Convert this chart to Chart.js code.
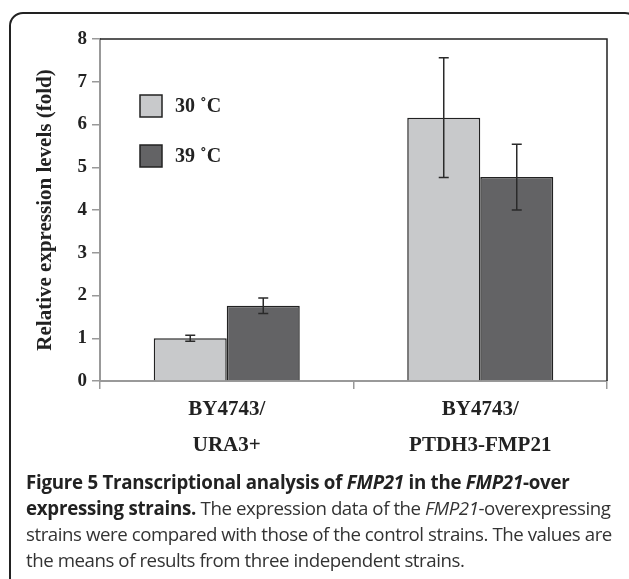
<!DOCTYPE html>
<html>
<head>
<meta charset="utf-8">
<script src="https://cdn.jsdelivr.net/npm/chart.js@4.4.1/dist/chart.umd.min.js"></script>
<style>
  html, body { margin: 0; padding: 0; background: #fff; }
  body { width: 629px; height: 579px; position: relative; overflow: hidden; }
  #frame {
    position: absolute; left: 9px; top: 12px; width: 630px; height: 620px;
    border: 2px solid #222; border-radius: 14px; box-sizing: border-box;
  }
  #wrap { position: absolute; left: 0; top: 0; width: 629px; height: 470px; }
  #caption {
    position: absolute; left: 26px; top: 469px; width: 600px;
    font-family: "Open Sans", sans-serif; font-size: 18.7px; line-height: 26px;
    color: #333; letter-spacing: -0.45px; white-space: nowrap;
  }
  #caption b { color: #222; letter-spacing: -0.25px; }
</style>
</head>
<body>
<div id="frame"></div>
<div id="wrap"><canvas id="grafica"></canvas></div>
<div id="caption">
  <b>Figure 5 Transcriptional analysis of <i>FMP21</i> in the <i>FMP21</i>-over</b><br>
  <b>expressing strains.</b> The expression data of the <i>FMP21</i>-overexpressing<br>
  strains were compared with those of the control strains. The values are<br>
  the means of results from three independent strains.
</div>

<script>
// ---- data ----
const categories = [["BY4743/", "URA3+"], ["BY4743/", "PTDH3-FMP21"]];
const seriesNames = ["30 ˚C", "39 ˚C"];
const values30 = [1.0, 6.16];
const values39 = [1.76, 4.77];
const err30 = [0.07, 1.40];
const err39 = [0.18, 0.77];
const yTicks = [0, 1, 2, 3, 4, 5, 6, 7, 8];

const serif = "'Liberation Serif', 'Times New Roman', serif";

/* =========================
   ERROR BARS + FRAME + LEGEND
========================= */
const extras = {
    id: "extras",
    afterDatasetsDraw(chart) {
        const ctx = chart.ctx;
        const y = chart.scales.y;
        const errs = [err30, err39];
        ctx.save();
        ctx.strokeStyle = "#2a2a2a";
        ctx.lineWidth = 1.5;
        chart.data.datasets.forEach((ds, i) => {
            chart.getDatasetMeta(i).data.forEach((bar, j) => {
                const v = ds.data[j], e = errs[i][j];
                const top = y.getPixelForValue(v + e);
                const bot = y.getPixelForValue(v - e);
                const cx = bar.x;
                ctx.beginPath();
                ctx.moveTo(cx, top); ctx.lineTo(cx, bot);
                ctx.moveTo(cx - 5, top); ctx.lineTo(cx + 5, top);
                ctx.moveTo(cx - 5, bot); ctx.lineTo(cx + 5, bot);
                ctx.stroke();
            });
        });

        // top and right frame of the plot
        const a = chart.chartArea;
        ctx.strokeStyle = "#222";
        ctx.lineWidth = 1.5;
        ctx.beginPath();
        ctx.moveTo(a.left, a.top); ctx.lineTo(a.right, a.top); ctx.lineTo(a.right, a.bottom);
        ctx.stroke();

        // legend inside the plot
        ctx.font = "bold 20px " + serif;
        ctx.textBaseline = "middle";
        chart.data.datasets.forEach((ds, i) => {
            const bx = a.left + 40, by = a.top + 56 + i * 50;
            ctx.fillStyle = ds.backgroundColor;
            ctx.fillRect(bx, by, 22, 22);
            ctx.strokeStyle = "#222";
            ctx.lineWidth = 1.5;
            ctx.strokeRect(bx, by, 22, 22);
            ctx.fillStyle = "#222";
            ctx.fillText(ds.label, bx + 35, by + 12);
        });
        ctx.restore();
    }
};

new Chart(document.getElementById("grafica"), {
    type: "bar",
    data: {
        labels: categories,
        datasets: [
            { label: seriesNames[0], data: values30, backgroundColor: "#c8c9cb",
              borderColor: "#222", borderWidth: 1.5 },
            { label: seriesNames[1], data: values39, backgroundColor: "#636365",
              borderColor: "#222", borderWidth: 1.5 }
        ]
    },
    options: {
        responsive: true,
        maintainAspectRatio: false,
        animation: false,
        categoryPercentage: 0.576,
        barPercentage: 1.0,
        layout: { padding: { left: 0, right: 22, top: 39, bottom: 0 } },
        plugins: { legend: { display: false }, tooltip: { enabled: false } },
        scales: {
            x: {
                grid: { display: true, drawOnChartArea: false, offset: true,
                        color: "#999", lineWidth: 1.5, tickLength: 8 },
                border: { color: "#999", width: 2 },
                ticks: { color: "#222", padding: 3,
                         font: { family: serif, size: 21, weight: "bold", lineHeight: 1.69 } },
                afterFit(s) { s.height = 89; }
            },
            y: {
                min: 0, max: 8,
                afterBuildTicks(s) { s.ticks = yTicks.map(v => ({ value: v })); },
                grid: { display: true, drawOnChartArea: false,
                        color: "#999", lineWidth: 1.5, tickLength: 8 },
                border: { color: "#999", width: 2 },
                ticks: { color: "#222", padding: 5,
                         font: { family: serif, size: 19, weight: "bold" } },
                title: { display: true, text: "Relative expression levels (fold)", color: "#222",
                         padding: { top: 33, bottom: 0 },
                         font: { family: serif, size: 21, weight: "bold" } },
                afterFit(s) { s.width = 100; }
            }
        }
    },
    plugins: [extras]
});
</script>
</body>
</html>
